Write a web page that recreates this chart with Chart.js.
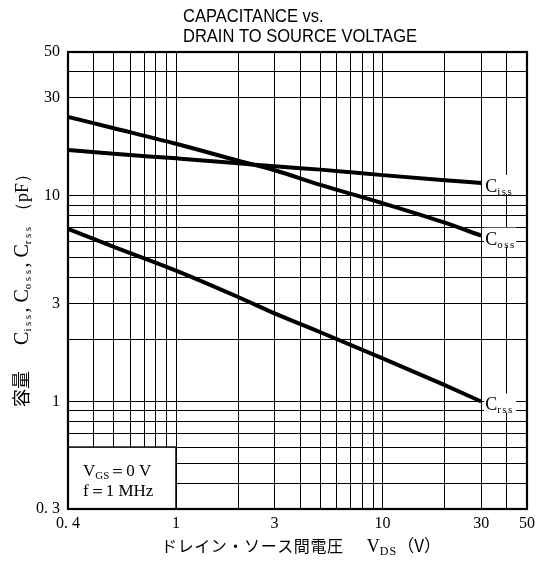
<!DOCTYPE html>
<html><head><meta charset="utf-8">
<script src="https://cdn.jsdelivr.net/npm/chart.js@4/dist/chart.umd.min.js"></script>
<style>html,body{margin:0;padding:0;background:#fff}#wrap{width:540px;height:564px}</style>
</head><body><div id="wrap"><canvas id="c" width="540" height="564"></canvas></div>
<script>
// ---- data ----
const voltages = [0.3, 0.5, 1, 2, 3, 5, 10, 20, 30];
const ciss = [16.7, 16.0, 15.2, 14.4, 13.9, 13.4, 12.6, 11.9, 11.55];
const coss = [24.2, 21.3, 17.9, 14.8, 13.3, 11.3, 9.2, 7.4, 6.4];
const crss = [6.9, 5.65, 4.33, 3.22, 2.68, 2.17, 1.62, 1.2, 1.0];
const seriesNames = [['C', 'iss'], ['C', 'oss'], ['C', 'rss']];
const xGrid = [0.3, 0.4, 0.5, 0.6, 0.7, 0.8, 0.9, 1, 2, 3, 4, 5, 6, 7, 8, 9, 10, 20, 30, 40, 50];
const xTickLabels = { '0.3': '0. 4', '1': '1', '3': '3', '10': '10', '30': '30', '50': '50' };
const yGrid = [0.3, 0.4, 0.5, 0.6, 0.7, 0.8, 0.9, 1, 2, 3, 4, 5, 6, 7, 8, 9, 10, 30, 40, 50];
const yTickLabels = { '0.3': '0. 3', '1': '1', '3': '3', '10': '10', '30': '30', '50': '50' };
const titleLines = ['CAPACITANCE vs.', 'DRAIN TO SOURCE VOLTAGE'];
const conditions = [[['V', ''], ['GS', 'sub'], ['＝0 V', '']], [['f＝1 MHz', '']]];

const SERIF = '"Liberation Serif", "DejaVu Serif", serif';
const CJK = '"Noto Sans CJK JP", sans-serif';

function drawRich(ctx, segs, x, y, align) {
  let total = 0;
  const widths = segs.map(s => {
    ctx.font = s.font;
    let w = 0;
    for (const ch of s.t) w += ctx.measureText(ch).width + (s.sp || 0);
    total += w;
    return w;
  });
  let cx = align === 'center' ? x - total / 2 : (align === 'right' ? x - total : x);
  segs.forEach((s, i) => {
    ctx.font = s.font;
    let px = cx;
    for (const ch of s.t) {
      ctx.fillText(ch, px, y + (s.dy || 0));
      px += ctx.measureText(ch).width + (s.sp || 0);
    }
    cx += widths[i];
  });
  return total;
}

const deco = {
  id: 'deco',
  afterDatasetsDraw(chart) {
    const ctx = chart.ctx;
    const xs = chart.scales.x, ys = chart.scales.y;
    const ca = chart.chartArea;
    ctx.save();
    ctx.fillStyle = '#000';
    ctx.textBaseline = 'alphabetic';
    // curve labels at end points
    [ciss, coss, crss].forEach((arr, k) => {
      const last = arr.length - 1;
      const px = xs.getPixelForValue(voltages[last]);
      const py = ys.getPixelForValue(arr[last]);
      ctx.fillStyle = '#fff';
      ctx.fillRect(px + 3, py - 8, 32, 19);
      ctx.fillStyle = '#000';
      drawRich(ctx, [
        { t: seriesNames[k][0], font: '18px ' + SERIF },
        { t: seriesNames[k][1], font: '11px ' + SERIF, dy: 3, sp: 1.5 }
      ], px + 4, py + 9, 'left');
    });
    // condition box
    const bx0 = xs.getPixelForValue(0.3), bx1 = xs.getPixelForValue(1);
    const by0 = ys.getPixelForValue(0.6), by1 = ys.getPixelForValue(0.3);
    ctx.fillStyle = '#fff';
    ctx.fillRect(bx0, by0, bx1 - bx0, by1 - by0);
    ctx.strokeStyle = '#000';
    ctx.lineWidth = 1.5;
    ctx.strokeRect(bx0, by0, bx1 - bx0, by1 - by0);
    ctx.fillStyle = '#000';
    conditions.forEach((line, i) => {
      const segs = line.map(([t, k]) => k === 'sub'
        ? { t, font: '11px ' + SERIF, dy: 3 }
        : { t, font: '17px ' + SERIF });
      drawRich(ctx, segs, bx0 + 15, by0 + 29 + i * 20, 'left');
    });
    // border
    ctx.lineWidth = 2.2;
    ctx.strokeRect(ca.left, ca.top, ca.right - ca.left, ca.bottom - ca.top);
    // title (slightly condensed sans, same scale for both lines)
    ctx.font = '18px "Liberation Sans", Arial, sans-serif';
    const sx = 234 / ctx.measureText(titleLines[1]).width;
    titleLines.forEach((t, i) => {
      ctx.save();
      ctx.translate(183, 22 + i * 19.5);
      ctx.scale(sx, 1);
      ctx.fillText(t, 0, 0);
      ctx.restore();
    });
    // y axis title
    ctx.save();
    ctx.translate(28, 286);
    ctx.rotate(-Math.PI / 2);
    const big = '20px ' + SERIF, sub = '11px ' + SERIF;
    drawRich(ctx, [
      { t: '容量', font: '18px ' + CJK },
      { t: '　  ', font: '18px ' + CJK },
      { t: 'C', font: big }, { t: 'iss', font: sub, dy: 3, sp: 2.5 }, { t: ', ', font: big },
      { t: 'C', font: big }, { t: 'oss', font: sub, dy: 3, sp: 2.5 }, { t: ', ', font: big },
      { t: 'C', font: big }, { t: 'rss', font: sub, dy: 3, sp: 2.5 },
      { t: ' （pF）', font: '18px ' + SERIF }
    ], 0, 0, 'center');
    ctx.restore();
    // x axis title
    drawRich(ctx, [
      { t: 'ドレイン・ソース間電圧', font: '16px ' + CJK, sp: 0.6 },
      { t: '　  ', font: '16px ' + CJK },
      { t: 'V', font: '18px ' + SERIF },
      { t: 'DS', font: '12px ' + SERIF, dy: 3, sp: 1 },
      { t: '（V）', font: '17px ' + CJK }
    ], 301, 552, 'center');
    ctx.restore();
  }
};

const mk = (arr) => voltages.map((v, i) => ({ x: v, y: arr[i] }));
const ds = (label, arr) => ({
  label, data: mk(arr), borderColor: '#000', borderWidth: 4,
  pointRadius: 0, fill: false, cubicInterpolationMode: 'monotone'
});

new Chart(document.getElementById('c'), {
  type: 'line',
  data: { datasets: [ds('Ciss', ciss), ds('Coss', coss), ds('Crss', crss)] },
  options: {
    responsive: false, animation: false, devicePixelRatio: 1,
    layout: { padding: { top: 52, right: 13, left: 0, bottom: 0 } },
    plugins: { legend: { display: false }, tooltip: { enabled: false }, title: { display: false } },
    scales: {
      x: {
        type: 'logarithmic', min: 0.3, max: 50,
        afterBuildTicks: s => { s.ticks = xGrid.map(v => ({ value: v })); },
        afterFit: s => { s.height = 55; },
        ticks: {
          autoSkip: false, maxRotation: 0, minRotation: 0, padding: 5, color: '#000',
          font: { family: SERIF, size: 16 },
          callback: v => xTickLabels[String(v)] || ''
        },
        grid: { color: '#000', lineWidth: 1, drawTicks: false },
        border: { display: false }
      },
      y: {
        type: 'logarithmic', min: 0.3, max: 50,
        afterBuildTicks: s => { s.ticks = yGrid.map(v => ({ value: v })); },
        afterFit: s => { s.width = 68; },
        ticks: {
          autoSkip: false, padding: 8, color: '#000',
          font: { family: SERIF, size: 16 },
          callback: v => yTickLabels[String(v)] || ''
        },
        grid: { color: '#000', lineWidth: 1, drawTicks: false },
        border: { display: false }
      }
    }
  },
  plugins: [deco]
});
</script></body></html>
